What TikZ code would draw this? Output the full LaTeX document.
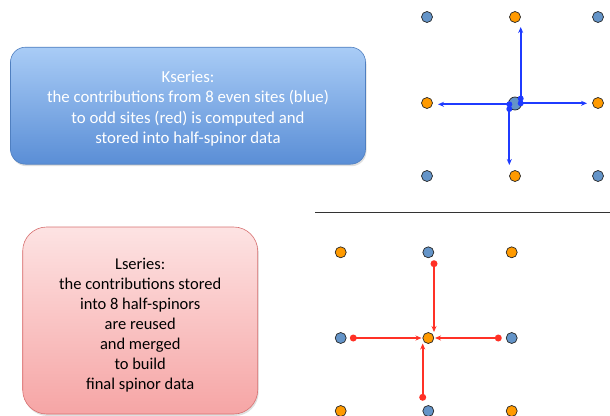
\documentclass[tikz,border=0pt]{standalone}
\usepackage{fontspec}
\setmainfont{Carlito}
\usetikzlibrary{arrows.meta,shadows}
\definecolor{siteblue}{HTML}{6494C8}
\definecolor{siteorange}{HTML}{FF9A00}
\definecolor{hopblue}{HTML}{1F3BFF}
\definecolor{hopred}{HTML}{FF3126}
\definecolor{ktop}{HTML}{A9CCF6}
\definecolor{kbot}{HTML}{5A8ED6}
\definecolor{kedge}{HTML}{4F7FC0}
\definecolor{ltop}{HTML}{FDE3E3}
\definecolor{lbot}{HTML}{F6A5A5}
\definecolor{ledge}{HTML}{D77070}
\tikzset{
  site/.style={circle, draw=black!85, line width=0.7pt, minimum size=11pt, inner sep=0pt},
  evensite/.style={site, fill=siteblue},
  oddsite/.style={site, fill=siteorange},
  kbox/.style={draw=kedge, line width=0.6pt, rounded corners=15pt, top color=ktop, bottom color=kbot,
    minimum width=355pt, minimum height=117pt, inner sep=0pt,
    drop shadow={opacity=0.25, shadow xshift=1pt, shadow yshift=-2pt}},
  lbox/.style={draw=ledge, line width=0.6pt, rounded corners=24pt, top color=ltop, bottom color=lbot,
    minimum width=235pt, minimum height=187pt, inner sep=0pt,
    drop shadow={opacity=0.25, shadow xshift=1pt, shadow yshift=-2pt}},
  boxtext/.style={align=center, font=\fontsize{16.8}{20.2}\selectfont, inner sep=0pt},
  bluehop/.style={draw=hopblue, line width=1.7pt, -{Stealth[length=6pt,width=5pt]}},
  redhop/.style={draw=hopred, line width=1.7pt, -{Stealth[length=6pt,width=5pt]}},
  bluedot/.style={circle, fill=hopblue, minimum size=6pt, inner sep=0pt},
  reddot/.style={circle, fill=hopred, minimum size=7pt, inner sep=0pt},
}
\begin{document}
\begin{tikzpicture}[x=1pt,y=-1pt]
\useasboundingbox (0,0) rectangle (610,415);

% text boxes
\node[kbox] (kbox) at (188,105.7) {};
\node[boxtext, text=white] (ktext) at (188,108.5)
  {Kseries:\\the contributions from 8 even sites (blue)\\to odd sites (red) is computed and\\stored into half-spinor data};
\node[lbox] (lbox) at (140.2,320.5) {};
\node[boxtext, text=black, font=\fontsize{16.5}{19.9}\selectfont] (ltext) at (140.2,325)
  {Lseries:\\the contributions stored\\into 8 half-spinors\\are reused\\and merged\\to build\\final spinor data};

% separator
\coordinate (sepL) at (315,212);
\coordinate (sepR) at (610,212);
\draw[line width=0.9pt, black!80] (sepL) -- (sepR);

% upper lattice
\node[evensite] (k11) at (427,17) {};
\node[oddsite]  (k12) at (515,17) {};
\node[evensite] (k13) at (598,17) {};
\node[oddsite]  (k21) at (427,103) {};
\node[evensite, minimum width=13pt] (k22) at (515,103.5) {};
\node[oddsite]  (k23) at (598,103) {};
\node[evensite] (k31) at (427,176) {};
\node[oddsite]  (k32) at (515,176) {};
\node[evensite] (k33) at (598,176) {};

% hops out of the even site
\node[bluedot] (su) at (520.7,98.5) {};
\node[bluedot] (sr) at (520.7,103.3) {};
\node[bluedot] (sl) at (509.3,104.3) {};
\node[bluedot] (sd) at (509.3,109) {};
\coordinate (eu) at (520.7,27);
\coordinate (er) at (587,103.3);
\coordinate (el) at (438,104.3);
\coordinate (ed) at (509.3,165);
\draw[bluehop] (su.center) -- (eu);
\draw[bluehop] (sr.center) -- (er);
\draw[bluehop] (sl.center) -- (el);
\draw[bluehop] (sd.center) -- (ed);

% lower lattice
\node[oddsite]  (l11) at (340.7,252.3) {};
\node[evensite] (l12) at (428.3,252.3) {};
\node[oddsite]  (l13) at (511.7,252.3) {};
\node[evensite] (l21) at (340.7,338) {};
\node[oddsite]  (l22) at (428.3,338) {};
\node[evensite] (l23) at (511.7,338) {};
\node[oddsite]  (l31) at (340.7,411) {};
\node[evensite] (l32) at (428.3,411) {};
\node[oddsite]  (l33) at (511.7,411) {};

% hops merging into the odd site
\node[reddot] (rt) at (434,263.7) {};
\node[reddot] (rl) at (353.3,338) {};
\node[reddot] (rr) at (498.3,338) {};
\node[reddot] (rb) at (422.7,397.3) {};
\coordinate (ht) at (434,332);
\coordinate (hl) at (421.5,338);
\coordinate (hr) at (435,338);
\coordinate (hb) at (422.7,343.5);
\draw[redhop] (rt.center) -- (ht);
\draw[redhop] (rl.center) -- (hl);
\draw[redhop] (rr.center) -- (hr);
\draw[redhop] (rb.center) -- (hb);
\end{tikzpicture}
\end{document}
